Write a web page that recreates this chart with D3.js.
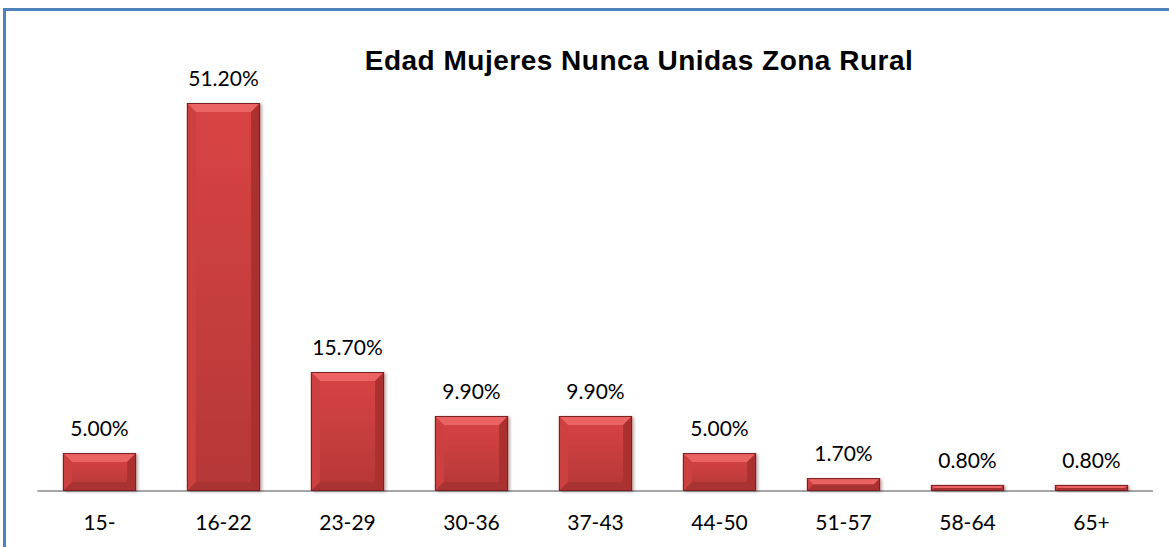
<!DOCTYPE html>
<html lang="es">
<head>
<meta charset="UTF-8">
<title>Edad Mujeres Nunca Unidas Zona Rural</title>
<script src="https://cdn.jsdelivr.net/npm/d3@7"></script>
<style>
  body { margin: 0; background: #fff; }
  svg { display: block; }
</style>
</head>
<body>
<svg width="1169" height="547"></svg>
<script>
// datos
const categorias = ["15-", "16-22", "23-29", "30-36", "37-43", "44-50", "51-57", "58-64", "65+"];
const porcentajes = [5.0, 51.2, 15.7, 9.9, 9.9, 5.0, 1.7, 0.8, 0.8];
const titulo = "Edad Mujeres Nunca Unidas Zona Rural";

const svg = d3.select("svg");
const W = 1169, H = 547;
const baseY = 491;

// marco azul (solo se ven borde izquierdo y superior)
svg.append("path")
  .attr("d", `M4.5,${H} L4.5,9.5 L${W},9.5`)
  .attr("fill", "none").attr("stroke", "#4f81bd").attr("stroke-width", 3);

const x = d3.scaleBand().domain(categorias).range([37.5, 1153.5]).paddingInner(0.41).paddingOuter(0.205);
const y = d3.scaleLinear().domain([0, 51.2]).range([baseY, 103]);

// gradientes
const defs = svg.append("defs");
const g1 = defs.append("linearGradient").attr("id", "cara").attr("x1", 0).attr("y1", 0).attr("x2", 0).attr("y2", 1);
g1.append("stop").attr("offset", "0%").attr("stop-color", "#d94444");
g1.append("stop").attr("offset", "100%").attr("stop-color", "#b53737");
const f = defs.append("filter").attr("id", "sombra").attr("x", "-10%").attr("y", "-10%").attr("width", "130%").attr("height", "130%");
f.append("feDropShadow").attr("dx", 2).attr("dy", 1).attr("stdDeviation", 1.5).attr("flood-color", "#000").attr("flood-opacity", 0.3);

// linea base
svg.append("line")
  .attr("x1", 37.5).attr("x2", 1153).attr("y1", baseY).attr("y2", baseY)
  .attr("stroke", "#a6a6a6").attr("stroke-width", 2);

const barras = svg.append("g").selectAll("g")
  .data(categorias.map((c, i) => ({c, v: porcentajes[i]})))
  .join("g");

barras.each(function(d) {
  const g = d3.select(this);
  const x0 = x(d.c), w = x.bandwidth();
  const y0 = y(d.v), h = baseY - y0;
  const b = Math.min(9, h / 2);
  g.append("rect").attr("x", x0).attr("y", y0).attr("width", w).attr("height", h)
    .attr("fill", "url(#cara)").attr("filter", "url(#sombra)");
  const x1 = x0 + w;
  // biseles
  g.append("polygon").attr("points", `${x0},${y0} ${x1},${y0} ${x1 - b},${y0 + b} ${x0 + b},${y0 + b}`)
    .attr("fill", "#ec6363");
  g.append("polygon").attr("points", `${x0},${y0} ${x0 + b},${y0 + b} ${x0 + b},${baseY - b} ${x0},${baseY}`)
    .attr("fill", "#cd4040");
  g.append("polygon").attr("points", `${x1},${y0} ${x1 - b},${y0 + b} ${x1 - b},${baseY - b} ${x1},${baseY}`)
    .attr("fill", "#ab3131");
  g.append("polygon").attr("points", `${x0},${baseY} ${x0 + b},${baseY - b} ${x1 - b},${baseY - b} ${x1},${baseY}`)
    .attr("fill", "#a93232");
  g.append("rect").attr("x", x0 + 0.5).attr("y", y0 + 0.5).attr("width", w - 1).attr("height", h - 1)
    .attr("fill", "none").attr("stroke", "#7a1f1f").attr("stroke-width", 1);
});

// etiquetas de valor
svg.append("g").selectAll("text")
  .data(porcentajes)
  .join("text")
  .attr("x", (d, i) => x(categorias[i]) + x.bandwidth() / 2)
  .attr("y", d => y(d) - 17)
  .attr("text-anchor", "middle")
  .attr("font-family", "Lato, 'Open Sans', sans-serif")
  .attr("font-size", 21)
  .attr("fill", "#000")
  .text(d => d.toFixed(2) + "%");

// eje x
const eje = svg.append("g")
  .attr("transform", `translate(0,${baseY})`)
  .call(d3.axisBottom(x).tickSize(0).tickPadding(0));
eje.select(".domain").remove();
eje.selectAll("text")
  .attr("y", 39)
  .attr("dy", 0)
  .attr("font-family", "Lato, 'Open Sans', sans-serif")
  .attr("font-size", 21)
  .attr("fill", "#000");

// titulo
svg.append("text")
  .attr("x", 639).attr("y", 70)
  .attr("text-anchor", "middle")
  .attr("font-family", "'Liberation Sans', Arial, sans-serif")
  .attr("font-weight", "bold")
  .attr("font-size", 28)
  .attr("letter-spacing", 0.5)
  .text(titulo);
</script>
</body>
</html>
